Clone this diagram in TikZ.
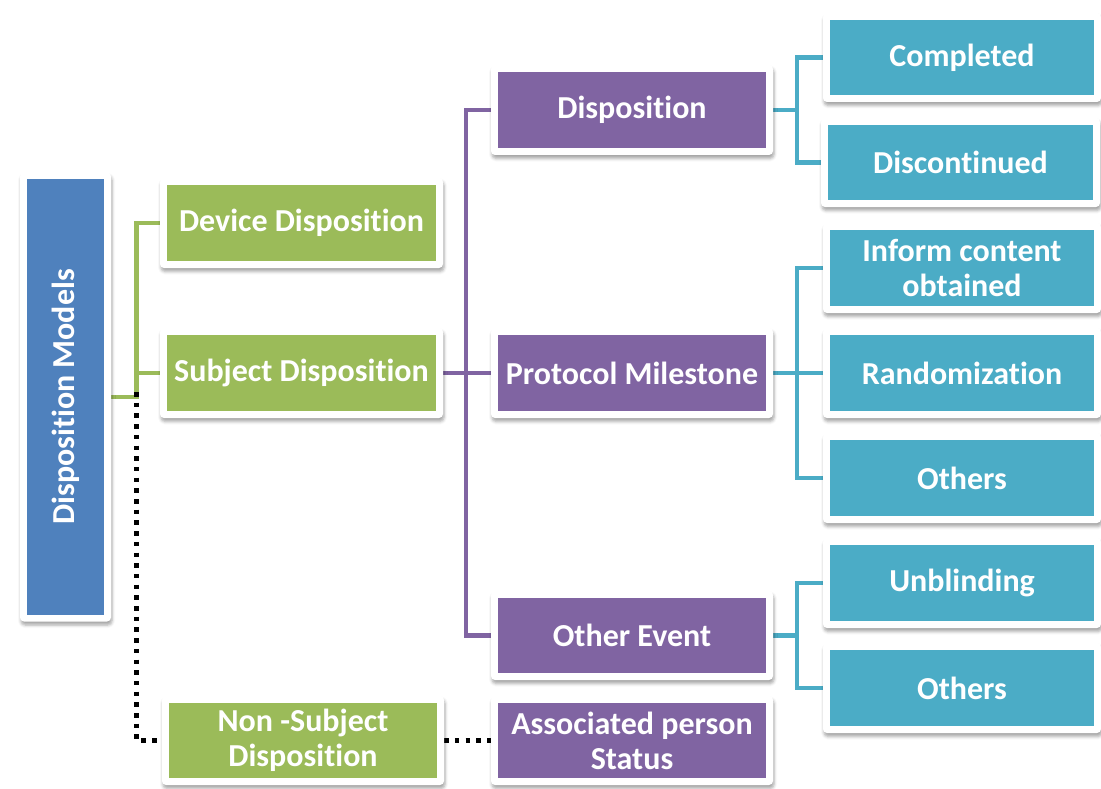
\documentclass[tikz,border=0pt]{standalone}
\usepackage{fontspec}
\setmainfont{Carlito}[Ligatures={NoCommon}]
\usetikzlibrary{shadows.blur}
\pgfdeclarelayer{background}
\pgfsetlayers{background,main}
\definecolor{cblue}{HTML}{4F81BD}
\definecolor{cgreen}{HTML}{9BBB59}
\definecolor{cpurple}{HTML}{8064A2}
\definecolor{cteal}{HTML}{4BACC6}
\tikzset{
  bx/.style={fill=white, rounded corners=4pt, inner sep=0pt, text=white,
    font=\fontsize{32}{35}\selectfont\bfseries, align=center,
    blur shadow={shadow xshift=1pt, shadow yshift=-3.5pt, shadow blur radius=3pt, shadow opacity=35},
    path picture={\fill[#1, sharp corners] ([shift={(7pt,-7pt)}]path picture bounding box.north west) rectangle ([shift={(-7pt,7pt)}]path picture bounding box.south east);}},
  gb/.style={bx=cgreen, minimum width=283pt, minimum height=90pt},
  pb/.style={bx=cpurple, minimum width=282pt, minimum height=90pt},
  tb/.style={bx=cteal, minimum width=278pt, minimum height=90pt},
  conn/.style={line width=4.5pt},
  gline/.style={conn, draw=cgreen},
  pline/.style={conn, draw=cpurple},
  tline/.style={conn, draw=cteal},
  dotline/.style={line width=5pt, draw=black, dash pattern=on 4.5pt off 6.2pt}
}
\begin{document}
\begin{tikzpicture}[x=1pt,y=-1pt]
\useasboundingbox (0,0) rectangle (1101,789);
% left column
\node[bx=cblue, minimum width=91pt, minimum height=449pt] (dm) at (65.5,397) {\rotatebox{90}{Disposition Models}};
% green
\node[gb] (dd) at (301.5,223) {Device Disposition};
\node[gb] (sd) at (301.5,373) {Subject Disposition};
\node[gb, minimum width=282pt, minimum height=89pt] (nsd) at (303,740.5) {Non -Subject\\Disposition};
% purple
\node[pb] (disp) at (632,110) {Disposition};
\node[pb] (pm) at (632,373) {Protocol Milestone};
\node[pb, minimum height=89pt] (oe) at (632,635.5) {Other Event};
\node[pb, minimum height=89pt] (aps) at (632,740.5) {Associated person\\Status};
% teal
\node[tb, minimum height=89pt] (comp) at (962,57.5) {Completed};
\node[tb, minimum width=279pt, minimum height=89pt] (disc) at (960.5,162.5) {Discontinued};
\node[tb] (ico) at (962,268) {Inform content\\obtained};
\node[tb] (rand) at (962,373) {Randomization};
\node[tb] (oth1) at (962,478) {Others};
\node[tb] (unb) at (962,583) {Unblinding};
\node[tb] (oth2) at (962,688) {Others};
\begin{pgfonlayer}{background}
% green connectors
\draw[gline] (dm.east) -- ++(25.5,0) coordinate (g1) |- (dd.west);
\draw[gline] (g1) |- (sd.west);
% dotted connectors
\draw[dotline] ([yshift=5pt]g1) |- (nsd.west);
\draw[dotline] (nsd.east) -- (aps.west);
% purple connectors
\draw[pline] (sd.east) -- (pm.west);
\draw[pline] (disp.west) -- ++(-25,0) |- (oe.west);
% teal connectors
\draw[tline] (disp.east) -- ++(24,0) coordinate (t1);
\draw[tline] (comp.west) -| (t1) |- (disc.west);
\draw[tline] (pm.east) -- ++(24,0) coordinate (t2);
\draw[tline] (ico.west) -| (t2) |- (oth1.west);
\draw[tline] (t2) -- (rand.west);
\draw[tline] (oe.east) -- ++(24,0) coordinate (t3);
\draw[tline] (unb.west) -| (t3) |- (oth2.west);
\end{pgfonlayer}
\end{tikzpicture}
\end{document}
